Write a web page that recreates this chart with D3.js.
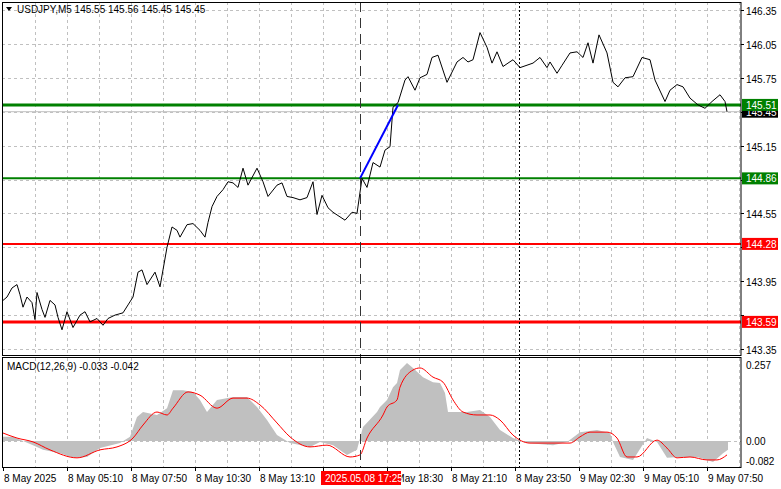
<!DOCTYPE html>
<html><head><meta charset="utf-8">
<script src="https://cdn.jsdelivr.net/npm/d3@7"></script>
<style>
body{margin:0;background:#fff;}
text{font-family:"Liberation Sans",Arial,sans-serif;font-size:10px;}
</style></head>
<body><div id="chart"></div>
<script>
// price line: t = position in chart steps (2 steps per 5-min bar), price
var priceT = [0,4,9,14,17,20,24,29,32,34,39,42,47,52,55,59,64,70,77,82,87,94,100,105,112,120,125,130,135,139,144,152,157,160,164,169,174,177,184,190,197,202,205,209,214,220,225,230,235,240,245,254,260,265,274,279,284,290,297,304,310,314,319,325,330,342,349,354,359,364,370,377,382,387,390,395,402,405,412,417,424,429,435,444,454,460,465,470,477,484,489,494,500,510,517,530,537,544,547,554,559,567,574,580,585,590,596,604,610,615,622,630,639,647,652,662,667,674,680,687,695,702,709,717,722,724];
var priceV = [143.78,143.81,143.89,143.92,143.83,143.72,143.81,143.76,143.61,143.85,143.70,143.63,143.78,143.74,143.63,143.52,143.68,143.54,143.65,143.68,143.59,143.62,143.56,143.62,143.65,143.67,143.74,143.81,144.03,144.05,143.92,144.03,143.90,144.05,144.25,144.43,144.40,144.34,144.45,144.46,144.40,144.34,144.47,144.61,144.70,144.76,144.83,144.82,144.78,144.95,144.80,144.95,144.83,144.70,144.80,144.82,144.70,144.69,144.67,144.69,144.83,144.54,144.71,144.60,144.56,144.49,144.56,144.55,144.86,144.78,145.00,144.96,145.11,145.14,145.49,145.53,145.73,145.76,145.64,145.75,145.78,145.93,145.95,145.71,145.89,145.93,145.89,145.91,146.15,146.02,145.88,145.98,145.85,145.91,145.84,145.88,145.93,145.84,145.89,145.79,145.86,145.97,145.98,145.93,146.06,145.88,146.13,145.97,145.71,145.67,145.75,145.76,145.93,145.91,145.73,145.54,145.64,145.69,145.67,145.57,145.51,145.48,145.54,145.60,145.54,145.45];

// MACD histogram and signal
var histT = [0,10,30,40,57,70,84,97,117,127,134,140,154,164,170,180,190,197,204,214,230,244,254,264,274,287,307,317,330,344,354,360,374,377,384,390,394,397,404,410,420,430,437,442,445,464,477,487,497,510,524,550,564,577,594,607,610,617,630,644,654,664,677,694,704,710,720,725];
var histV = [0.014,0.014,-0.014,-0.030,-0.041,-0.057,-0.054,-0.024,-0.007,0.014,0.081,0.098,0.088,0.111,0.172,0.172,0.166,0.139,0.098,0.139,0.149,0.149,0.115,0.071,0.020,-0.007,-0.020,-0.003,-0.014,-0.047,-0.030,0.047,0.098,0.115,0.139,0.182,0.196,0.240,0.264,0.247,0.216,0.199,0.196,0.162,0.098,0.098,0.105,0.081,0.037,0.010,-0.007,-0.014,-0.003,0.030,0.037,0.027,-0.003,-0.054,-0.064,0.010,-0.003,-0.057,-0.054,-0.054,-0.064,-0.071,-0.041,-0.030];
var sigT = [0,14,30,47,74,97,114,130,140,154,164,170,185,197,214,230,244,257,274,287,307,324,347,357,364,380,384,394,397,410,417,430,440,450,460,474,487,497,510,527,544,567,577,587,604,614,624,634,654,664,674,687,704,714,724];
var sigV = [0.027,0.010,-0.003,-0.030,-0.057,-0.030,-0.020,0.010,0.054,0.098,0.088,0.111,0.166,0.155,0.111,0.145,0.145,0.122,0.061,0.014,-0.020,-0.014,-0.054,-0.047,0.010,0.088,0.115,0.139,0.182,0.240,0.247,0.216,0.199,0.139,0.098,0.088,0.088,0.071,0.020,-0.007,-0.007,-0.007,0.014,0.030,0.030,0.010,-0.054,-0.054,0.003,-0.024,-0.057,-0.054,-0.064,-0.064,-0.047];

var priceTicks = [146.35,146.05,145.75,145.45,145.15,144.85,144.55,144.25,143.95,143.65,143.35];
var timeTicks = [0,64,128,192,256,320,384,448,512,576,640,704];
var timeLabels = ["8 May 2025","8 May 05:10","8 May 07:50","8 May 10:30","8 May 13:10","","8 May 18:30","8 May 21:10","8 May 23:50","9 May 02:30","9 May 05:10","9 May 07:50"];
var levels = [
  {v:145.51, c:"#008000", w:3},
  {v:144.86, c:"#008000", w:2},
  {v:144.28, c:"#ff0000", w:2},
  {v:143.59, c:"#ff0000", w:3}
];
var lastPrice = 145.45;
var crossT = 357, dotT = 516;
var blueLine = [[357,144.86],[395,145.51]];

var W = 781, H = 489;
var left = 2, right = 741;
var svg = d3.select("#chart").append("svg").attr("width", W).attr("height", H);

var x = d3.scaleLinear().domain([0, 738]).range([3, 741]);
var y = d3.scaleLinear().domain([143.35, 146.35]).range([349, 10]);
var ym = d3.scaleLinear().domain([0, 0.257]).range([441, 365]);

var grid = "#c0c0c0";
function vgrid(y0, y1) {
  for (var t = 32; t < 738; t += 32) {
    svg.append("line").attr("x1", x(t) + 0.5).attr("x2", x(t) + 0.5)
      .attr("y1", y0).attr("y2", y1)
      .attr("stroke", grid).attr("stroke-dasharray", "3,3");
  }
}
vgrid(2, 356);
vgrid(358, 467);

// horizontal price grid; tick labels hidden by a level tag are skipped
var tagged = levels.map(l => l.v).concat([lastPrice]);
priceTicks.forEach(function(p) {
  var py = Math.round(y(p)) + 0.5;
  svg.append("line").attr("x1", left).attr("x2", right).attr("y1", py).attr("y2", py)
    .attr("stroke", grid).attr("stroke-dasharray", "3,3");
  svg.append("line").attr("x1", right).attr("x2", right + 3).attr("y1", py).attr("y2", py).attr("stroke", "#000");
  var covered = tagged.some(v => Math.abs(y(v) - py) < 12);
  if (!covered) svg.append("text").attr("x", 746).attr("y", py + 4).text(p.toFixed(2));
});

// MACD zero line
svg.append("line").attr("x1", left).attr("x2", right).attr("y1", ym(0) + 0.5).attr("y2", ym(0) + 0.5)
  .attr("stroke", grid).attr("stroke-dasharray", "3,3");

// gray last-price line
svg.append("line").attr("x1", left).attr("x2", right).attr("y1", y(lastPrice)).attr("y2", y(lastPrice))
  .attr("stroke", "#c0c0c0");

// MACD histogram
svg.append("path")
  .datum(histT.map(function(t, i) { return [t, histV[i]]; }))
  .attr("fill", "#c0c0c0")
  .attr("d", d3.area().x(d => x(d[0])).y0(ym(0)).y1(d => ym(d[1])));
svg.append("path")
  .datum(sigT.map(function(t, i) { return [t, sigV[i]]; }))
  .attr("fill", "none").attr("stroke", "#ff0000").attr("stroke-width", 1)
  .attr("d", d3.line().curve(d3.curveMonotoneX).x(d => x(d[0])).y(d => ym(d[1])));

// level lines
levels.forEach(function(l) {
  svg.append("line").attr("x1", left).attr("x2", right).attr("y1", y(l.v)).attr("y2", y(l.v))
    .attr("stroke", l.c).attr("stroke-width", l.w);
});

// price line
svg.append("path")
  .datum(priceT.map(function(t, i) { return [t, priceV[i]]; }))
  .attr("fill", "none").attr("stroke", "#000").attr("stroke-width", 1)
  .attr("d", d3.line().x(d => x(d[0])).y(d => y(d[1])));

// blue trend line
svg.append("line")
  .attr("x1", x(blueLine[0][0])).attr("y1", y(blueLine[0][1]))
  .attr("x2", x(blueLine[1][0])).attr("y2", y(blueLine[1][1]))
  .attr("stroke", "#0000ff").attr("stroke-width", 2);

// crosshair & dotted line
svg.append("line").attr("x1", x(crossT) + 0.5).attr("x2", x(crossT) + 0.5).attr("y1", 2).attr("y2", 467)
  .attr("stroke", "#333").attr("stroke-dasharray", "10,6");
svg.append("line").attr("x1", x(dotT) + 0.5).attr("x2", x(dotT) + 0.5).attr("y1", 2).attr("y2", 467)
  .attr("stroke", "#000").attr("stroke-dasharray", "2,2");

// panel borders
svg.append("rect").attr("x", 2.5).attr("y", 2.5).attr("width", right - 2.5).attr("height", 353)
  .attr("fill", "none").attr("stroke", "#000");
svg.append("rect").attr("x", 2.5).attr("y", 357.5).attr("width", right - 2.5).attr("height", 110)
  .attr("fill", "none").attr("stroke", "#000");

// level labels
function tag(v, bg) {
  var py = y(v);
  svg.append("rect").attr("x", 742).attr("y", py - 6).attr("width", 36).attr("height", 12).attr("fill", bg);
  svg.append("text").attr("x", 746).attr("y", py + 4).attr("fill", "#fff").text(v.toFixed(2));
}
tag(lastPrice, "#000");
levels.forEach(function(l) { tag(l.v, l.c); });

// MACD axis labels
[[0.257, "0.257"], [0, "0.00"], [-0.082, "-0.082"]].forEach(function(d) {
  svg.append("text").attr("x", 746).attr("y", Math.min(ym(d[0]) + 4, 465)).text(d[1]);
});

// time axis
timeTicks.forEach(function(t, i) {
  svg.append("line").attr("x1", x(t) + 0.5).attr("x2", x(t) + 0.5).attr("y1", 467).attr("y2", 471).attr("stroke", "#000");
  svg.append("text").attr("x", x(t) + 1).attr("y", 482).text(timeLabels[i]);
});
svg.append("rect").attr("x", x(crossT) - 39).attr("y", 471).attr("width", 80).attr("height", 14).attr("fill", "#ff0000");
svg.append("text").attr("x", x(crossT) - 35).attr("y", 482).attr("fill", "#fff").text("2025.05.08 17:25");

// titles
svg.append("path").attr("d", "M6,7 L12,7 L9,11 Z").attr("fill", "#000");
svg.append("text").attr("x", 17).attr("y", 13).text("USDJPY,M5  145.55 145.56 145.45 145.45");
svg.append("text").attr("x", 7).attr("y", 370).text("MACD(12,26,9) -0.033 -0.042");
</script></body></html>
